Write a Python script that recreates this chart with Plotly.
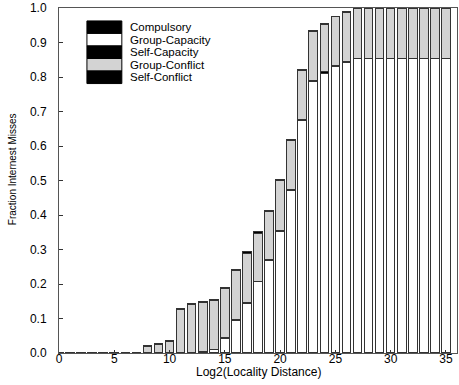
import plotly.graph_objects as go

x = list(range(36))
compulsory = [0.002]*8 + [0.001]*28
group_capacity = [0]*13 + [0, 0.008, 0.040, 0.093, 0.144, 0.205, 0.267, 0.352, 0.470, 0.674, 0.787, 0.811, 0.830, 0.841] + [0.852]*9
self_capacity = [0]*13 + [0.004, 0.002, 0.003, 0.002, 0.002, 0.002, 0.002, 0.003, 0.003, 0.003, 0.003, 0.003, 0.002, 0.002] + [0.001]*9
group_conflict = [0]*8 + [0.019, 0.024, 0.033, 0.124, 0.140, 0.142, 0.141, 0.142, 0.143, 0.143, 0.139, 0.141, 0.144, 0.143, 0.140, 0.140, 0.139, 0.142, 0.144] + [0.145]*9
self_conflict = [0]*8 + [0.003]*10 + [0.004, 0.003, 0.003, 0.003, 0.003, 0.004, 0.003, 0.002, 0.001] + [0.001]*9
y_ticks = [i / 10 for i in range(11)]
y_labels = ["%.1f" % v for v in y_ticks]
x_ticks = list(range(0, 36, 5))

series = [
    ("Compulsory", compulsory, "black"),
    ("Group-Capacity", group_capacity, "white"),
    ("Self-Capacity", self_capacity, "black"),
    ("Group-Conflict", group_conflict, "#d3d3d3"),
    ("Self-Conflict", self_conflict, "black"),
]

fig = go.Figure()
for name, vals, col in series:
    fig.add_trace(go.Bar(x=x, y=vals, name=name, marker=dict(color=col, line=dict(color="#333333", width=1)),
                         width=0.78, showlegend=False))

font = "Liberation Sans, Arial, Helvetica, sans-serif"
L, R, T, B = 59, 1, 6, 32
W, H = 459, 385
pw, ph = W - L - R, H - T - B

fig.update_layout(
    barmode="stack",
    width=W, height=H,
    margin=dict(l=L, r=R, t=T, b=B),
    plot_bgcolor="white", paper_bgcolor="white",
    font=dict(family=font, size=12, color="black"),
    xaxis=dict(range=[0, 36], tickvals=x_ticks, ticks="inside", ticklen=3, tickcolor="#333333",
               showline=True, linecolor="#555555", mirror=True, showgrid=False, zeroline=False,
               tickfont=dict(size=12), ticklabelstandoff=-5),
    yaxis=dict(range=[0, 1.0005], tickvals=y_ticks, ticktext=y_labels,
               ticks="inside", ticklen=4, tickcolor="#333333",
               showline=True, linecolor="#555555", mirror=True, showgrid=False, zeroline=False,
               tickfont=dict(size=12), ticklabelstandoff=9, ticklabeloverflow="allow"),
)

# axis titles
fig.add_annotation(xref="paper", yref="paper", x=0.5, y=(T + ph - (378 - T)) / ph, text="Log2(Locality Distance)",
                   showarrow=False, xanchor="center", yanchor="middle", font=dict(size=12), borderpad=0)
fig.add_annotation(xref="paper", yref="paper", x=(12 - L) / pw, y=(T + ph - (174 - T)) / ph, text="Fraction Internest Misses",
                   showarrow=False, xanchor="center", yanchor="middle", textangle=-90, font=dict(size=10))

# legend drawn manually
x0, x1 = (87 - L) / pw, (122 - L) / pw
top = (T + ph - 19) / ph
h = 12.6 / ph
for i, (name, vals, col) in enumerate(series):
    y1 = top - i * h
    y0 = y1 - h
    fig.add_shape(type="rect", xref="paper", yref="paper", x0=x0, x1=x1, y0=y0, y1=y1,
                  fillcolor=col, line=dict(color="black", width=1))
    fig.add_annotation(xref="paper", yref="paper", x=(129 - L) / pw, y=(y0 + y1) / 2, text=name,
                       showarrow=False, xanchor="left", yanchor="middle", font=dict(size=11.5), borderpad=0)

fig.write_html("out.html")
